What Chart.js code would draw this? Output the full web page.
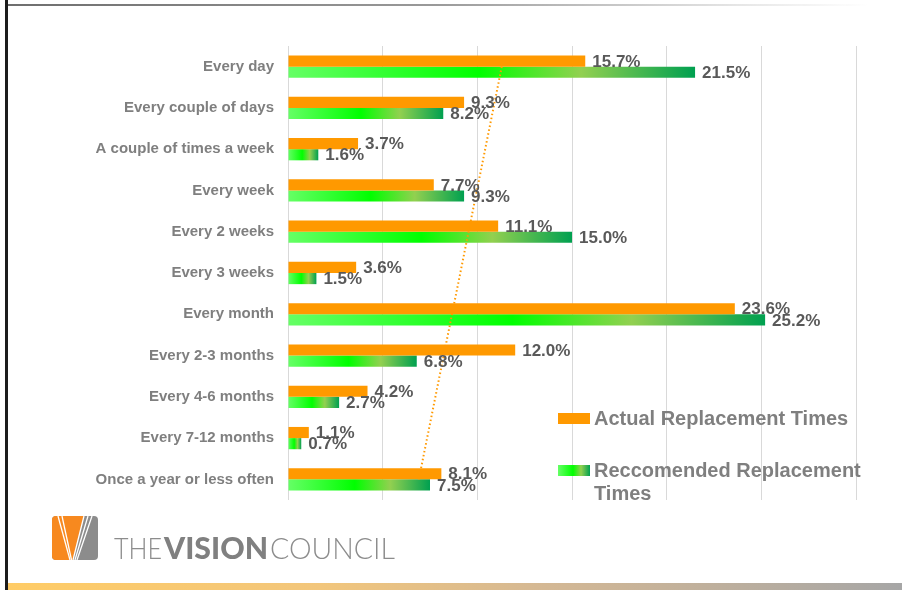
<!DOCTYPE html>
<html>
<head>
<meta charset="utf-8">
<script src="https://cdn.jsdelivr.net/npm/chart.js@4.4.1/dist/chart.umd.min.js"></script>
<style>
  body { margin: 0; background: #fff; }
  #wrap { position: relative; width: 902px; height: 590px; overflow: hidden; }
  #chart { position: absolute; left: 0; top: 0; }
  .deco { position: absolute; pointer-events: none; }
</style>
</head>
<body>
<div id="wrap">
  <canvas id="chart" width="902" height="590"></canvas>
  <div class="deco" style="left:5px;top:0;width:3px;height:590px;background:#1c1c1c;"></div>
  <div class="deco" style="left:8px;top:4px;width:860px;height:2px;background:linear-gradient(to right,#6e6e6e,#9a9a9a 50%,#e6e6e6 85%,rgba(255,255,255,0));"></div>
  <div class="deco" style="left:8px;top:583px;width:894px;height:7px;background:linear-gradient(to right,#ffcc66,#f2c67c 35%,#d4b894 60%,#a6a6a6);"></div>
  <svg class="deco" style="left:0;top:500px;" width="420" height="80" viewBox="0 500 420 80">
    <defs>
      <clipPath id="logoClip"><rect x="52" y="516" width="46" height="44" rx="4"/></clipPath>
    </defs>
    <g clip-path="url(#logoClip)">
      <rect x="52" y="516" width="46" height="44" fill="#8c8c8c"/>
      <polygon points="52,516 84,516 73,560 52,560" fill="#f7891f"/>
      <g stroke="#fff" stroke-width="1.3">
        <line x1="84" y1="516" x2="73" y2="560"/>
        <line x1="88" y1="516" x2="75" y2="560"/>
        <line x1="92" y1="516" x2="77" y2="560"/>
        <line x1="58" y1="516" x2="70" y2="560"/>
        <line x1="62" y1="516" x2="71.5" y2="560"/>
      </g>
    </g>
    <text x="114" y="559" font-family="Lato, 'Open Sans', sans-serif" font-weight="300" font-size="30" fill="#8c8c8c" textLength="48" lengthAdjust="spacingAndGlyphs">THE</text>
    <text x="164" y="559" font-family="Lato, 'Liberation Sans', sans-serif" font-weight="900" font-size="30" fill="#808080" textLength="104" lengthAdjust="spacingAndGlyphs">VISION</text>
    <text x="270" y="559" font-family="Lato, 'Open Sans', sans-serif" font-weight="300" font-size="30" fill="#8c8c8c" textLength="125" lengthAdjust="spacingAndGlyphs">COUNCIL</text>
  </svg>
</div>
<script>
// categories and values
var categories = [
  'Every day',
  'Every couple of days',
  'A couple of times a week',
  'Every week',
  'Every 2 weeks',
  'Every 3 weeks',
  'Every month',
  'Every 2-3 months',
  'Every 4-6 months',
  'Every 7-12 months',
  'Once a year or less often'
];
var actualTimes = [15.7, 9.3, 3.7, 7.7, 11.1, 3.6, 23.6, 12.0, 4.2, 1.1, 8.1];
var recommendedTimes = [21.5, 8.2, 1.6, 9.3, 15.0, 1.5, 25.2, 6.8, 2.7, 0.7, 7.5];
var xTicks = [0, 5, 10, 15, 20, 25, 30];

var ORANGE = '#ff9900';
var LABEL_GREY = '#7f7f7f';
var VALUE_GREY = '#595959';
var FONT = "'Liberation Sans', Arial, sans-serif";

// linear trendline of the actual series (like the excel one)
function linearTrend(values) {
  var n = values.length, mx = 0, my = 0;
  values.forEach(function (v, i) { mx += i; my += v; });
  mx /= n; my /= n;
  var sxy = 0, sxx = 0;
  values.forEach(function (v, i) { sxy += (i - mx) * (v - my); sxx += (i - mx) * (i - mx); });
  var slope = sxy / sxx;
  return values.map(function (v, i) { return my + slope * (i - mx); });
}

function greenGradient(ctx, x0, x1) {
  var g = ctx.createLinearGradient(x0, 0, x1, 0);
  g.addColorStop(0, '#66ff66');
  g.addColorStop(0.47, '#00ff00');
  g.addColorStop(0.72, '#92d050');
  g.addColorStop(1, '#00a050');
  return g;
}

function greenBar(context) {
  var chart = context.chart;
  if (!chart.chartArea || context.type !== 'data') return '#00ff00';
  var x = chart.scales.x;
  var x0 = x.getPixelForValue(0);
  var x1 = x.getPixelForValue(context.raw);
  if (x1 - x0 < 1) x1 = x0 + 1;
  return greenGradient(chart.ctx, x0, x1);
}

// value labels at the end of every bar
var valueLabels = {
  id: 'valueLabels',
  afterDatasetsDraw: function (chart) {
    var ctx = chart.ctx;
    ctx.save();
    ctx.font = 'bold 17px ' + FONT;
    ctx.fillStyle = VALUE_GREY;
    ctx.textAlign = 'left';
    ctx.textBaseline = 'middle';
    chart.data.datasets.forEach(function (ds, di) {
      if (ds.type === 'line') return;
      chart.getDatasetMeta(di).data.forEach(function (bar, i) {
        ctx.fillText(ds.data[i].toFixed(1) + '%', bar.x + 7, bar.y + 1);
      });
    });
    ctx.restore();
  }
};

// legend sits inside the plot, bottom right, with wrapped text
var sideLegend = {
  id: 'sideLegend',
  afterDraw: function (chart) {
    var ctx = chart.ctx;
    var area = chart.chartArea;
    var bx = area.left + 270, tx = bx + 36, maxW = 272;
    var rows = [area.top + 367, area.top + 419];
    ctx.save();
    ctx.font = 'bold 20px ' + FONT;
    ctx.fillStyle = LABEL_GREY;
    ctx.textBaseline = 'alphabetic';
    chart.data.datasets.forEach(function (ds, di) {
      if (ds.type === 'line') return;
      var y = rows[di];
      ctx.fillStyle = di === 0 ? ORANGE : greenGradient(ctx, bx, bx + 32);
      ctx.fillRect(bx, y, 32, 11);
      // simple word wrap
      var words = ds.label.split(' '), lines = [], cur = '';
      words.forEach(function (w) {
        var test = cur ? cur + ' ' + w : w;
        if (ctx.measureText(test).width > maxW && cur) { lines.push(cur); cur = w; }
        else cur = test;
      });
      lines.push(cur);
      ctx.fillStyle = LABEL_GREY;
      lines.forEach(function (line, li) {
        ctx.fillText(line, tx, y + 12 + li * 23);
      });
    });
    ctx.restore();
  }
};

new Chart(document.getElementById('chart'), {
  type: 'bar',
  data: {
    labels: categories,
    datasets: [{
      label: 'Actual Replacement Times',
      data: actualTimes,
      backgroundColor: ORANGE,
      categoryPercentage: 0.54,
      barPercentage: 1.0,
      order: 1
    }, {
      label: 'Reccomended Replacement Times',
      data: recommendedTimes,
      backgroundColor: greenBar,
      categoryPercentage: 0.54,
      barPercentage: 1.0,
      order: 2
    }, {
      type: 'line',
      label: 'Trend',
      indexAxis: 'y',
      data: linearTrend(actualTimes),
      borderColor: ORANGE,
      borderWidth: 2,
      borderDash: [1.5, 2.5],
      pointRadius: 0,
      fill: false,
      order: -1
    }]
  },
  options: {
    indexAxis: 'y',
    responsive: false,
    animation: false,
    events: [],
    layout: { padding: { top: 46, right: 46, bottom: 90, left: 0 } },
    scales: {
      x: {
        min: xTicks[0],
        max: xTicks[xTicks.length - 1],
        afterBuildTicks: function (scale) {
          scale.ticks = xTicks.map(function (v) { return { value: v }; });
        },
        ticks: { display: false },
        grid: { color: '#d9d9d9', lineWidth: 1, drawTicks: false },
        border: { display: false }
      },
      y: {
        afterFit: function (scale) { scale.width = 288; },
        ticks: {
          color: LABEL_GREY,
          font: { family: FONT, size: 15, weight: 'bold' },
          padding: 14
        },
        grid: { display: false, drawTicks: false },
        border: { display: false }
      }
    },
    plugins: {
      legend: { display: false },
      tooltip: { enabled: false }
    }
  },
  plugins: [valueLabels, sideLegend]
});
</script>
</body>
</html>
